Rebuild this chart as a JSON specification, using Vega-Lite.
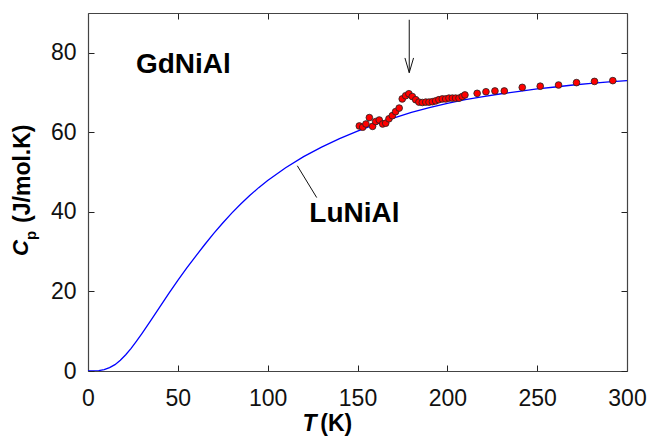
{
  "$schema": "https://vega.github.io/schema/vega-lite/v6.json",
  "width": 539,
  "height": 358,
  "autosize": "none",
  "padding": {"left": 88, "top": 13, "right": 23, "bottom": 66},
  "background": "white",
  "config": {
    "view": {"stroke": null},
    "font": "Liberation Sans",
    "axis": {
      "grid": false,
      "domainColor": "#444444",
      "domainWidth": 1.2,
      "tickColor": "#222222",
      "tickWidth": 1,
      "tickSize": -6,
      "labelFont": "Liberation Sans",
      "labelFontSize": 23,
      "labelColor": "#111111",
      "title": null
    },
    "text": {"font": "Liberation Sans", "fontWeight": "bold", "baseline": "middle", "color": "#000000"}
  },
  "datasets": {
    "luniAl": [
      {"T": 0, "C": 0}, {"T": 3, "C": 0.02}, {"T": 6, "C": 0.1}, {"T": 9, "C": 0.35},
      {"T": 12, "C": 0.85}, {"T": 15, "C": 1.6}, {"T": 18, "C": 2.7}, {"T": 21, "C": 4.1},
      {"T": 24, "C": 5.7}, {"T": 27, "C": 7.5}, {"T": 30, "C": 9.4}, {"T": 35, "C": 12.7},
      {"T": 40, "C": 16.1}, {"T": 45, "C": 19.5}, {"T": 50, "C": 22.8}, {"T": 55, "C": 25.9},
      {"T": 60, "C": 28.9}, {"T": 65, "C": 31.8}, {"T": 70, "C": 34.6}, {"T": 75, "C": 37.2},
      {"T": 80, "C": 39.7}, {"T": 85, "C": 42.0}, {"T": 90, "C": 44.1}, {"T": 95, "C": 46.1},
      {"T": 100, "C": 47.9}, {"T": 110, "C": 51.1}, {"T": 120, "C": 53.9}, {"T": 130, "C": 56.3},
      {"T": 140, "C": 58.4}, {"T": 150, "C": 60.3}, {"T": 160, "C": 62.0}, {"T": 170, "C": 63.6},
      {"T": 180, "C": 65.0}, {"T": 190, "C": 66.2}, {"T": 200, "C": 67.3}, {"T": 210, "C": 68.2},
      {"T": 220, "C": 69.0}, {"T": 230, "C": 69.7}, {"T": 240, "C": 70.3}, {"T": 250, "C": 70.9},
      {"T": 260, "C": 71.4}, {"T": 270, "C": 71.9}, {"T": 280, "C": 72.3}, {"T": 290, "C": 72.7},
      {"T": 300, "C": 73.0}
    ],
    "gdniAl": [
      {"T": 151.0, "C": 61.6}, {"T": 152.9, "C": 61.3}, {"T": 154.7, "C": 62.1}, {"T": 156.6, "C": 63.7},
      {"T": 158.4, "C": 61.5}, {"T": 160.1, "C": 62.7}, {"T": 162.1, "C": 63.1}, {"T": 164.0, "C": 62.1},
      {"T": 165.7, "C": 62.3}, {"T": 167.5, "C": 63.4}, {"T": 169.4, "C": 64.2}, {"T": 171.2, "C": 65.2},
      {"T": 173.2, "C": 66.1}, {"T": 174.9, "C": 68.4}, {"T": 176.8, "C": 69.2}, {"T": 178.6, "C": 69.7},
      {"T": 180.5, "C": 69.0}, {"T": 182.4, "C": 68.2}, {"T": 184.2, "C": 67.6}, {"T": 186.1, "C": 67.5},
      {"T": 188.0, "C": 67.6}, {"T": 189.8, "C": 67.6}, {"T": 191.7, "C": 67.7}, {"T": 193.5, "C": 67.9},
      {"T": 195.3, "C": 68.2}, {"T": 197.2, "C": 68.4}, {"T": 199.1, "C": 68.4}, {"T": 200.9, "C": 68.6},
      {"T": 202.8, "C": 68.6}, {"T": 204.6, "C": 68.6}, {"T": 206.5, "C": 68.6}, {"T": 208.3, "C": 69.0},
      {"T": 209.8, "C": 69.4}, {"T": 216.6, "C": 69.8}, {"T": 221.5, "C": 70.2}, {"T": 226.5, "C": 70.4},
      {"T": 231.7, "C": 70.4}, {"T": 241.7, "C": 71.3}, {"T": 251.7, "C": 71.6}, {"T": 261.9, "C": 71.9},
      {"T": 271.9, "C": 72.5}, {"T": 281.9, "C": 72.8}, {"T": 292.1, "C": 73.0}
    ],
    "strokes": [
      {"seg": "shaft", "k": 0, "T": 178.8, "C": 88.3},
      {"seg": "shaft", "k": 1, "T": 178.8, "C": 75.0},
      {"seg": "head", "k": 0, "T": 176.4, "C": 78.7},
      {"seg": "head", "k": 1, "T": 178.8, "C": 75.0},
      {"seg": "head", "k": 2, "T": 181.2, "C": 78.7},
      {"seg": "leader", "k": 0, "T": 116.5, "C": 51.6},
      {"seg": "leader", "k": 1, "T": 127.3, "C": 43.6}
    ]
  },
  "resolve": {"axis": {"x": "independent", "y": "independent"}},
  "layer": [
    {
      "data": {"name": "luniAl"},
      "mark": {"type": "line", "color": "#0000ff", "strokeWidth": 1.3, "clip": true},
      "encoding": {
        "x": {"field": "T", "type": "quantitative", "scale": {"domain": [0, 300], "nice": false},
              "axis": {"orient": "bottom", "values": [0, 50, 100, 150, 200, 250, 300], "labelPadding": 22, "labelFlush": false}},
        "y": {"field": "C", "type": "quantitative", "scale": {"domain": [0, 90], "nice": false},
              "axis": {"orient": "left", "values": [0, 20, 40, 60, 80], "labelPadding": 18}}
      }
    },
    {
      "data": {"name": "gdniAl"},
      "mark": {"type": "point", "shape": "circle", "filled": true, "color": "#ff0000", "stroke": "#222222", "strokeWidth": 0.8, "size": 45, "opacity": 1},
      "encoding": {
        "x": {"field": "T", "type": "quantitative",
              "axis": {"orient": "top", "values": [0, 50, 100, 150, 200, 250, 300], "labels": false}},
        "y": {"field": "C", "type": "quantitative",
              "axis": {"orient": "right", "values": [0, 20, 40, 60, 80], "labels": false}}
      }
    },
    {
      "data": {"name": "strokes"},
      "mark": {"type": "line", "color": "#111111", "strokeWidth": 1},
      "encoding": {
        "x": {"field": "T", "type": "quantitative", "axis": null},
        "y": {"field": "C", "type": "quantitative", "axis": null},
        "detail": {"field": "seg"},
        "order": {"field": "k"}
      }
    },
    {
      "data": {"values": [
        {"text": "GdNiAl", "T": 26.7, "C": 77.0},
        {"text": "LuNiAl", "T": 123.2, "C": 39.4}
      ]},
      "mark": {"type": "text", "align": "left", "fontSize": 28},
      "encoding": {
        "x": {"field": "T", "type": "quantitative", "axis": null},
        "y": {"field": "C", "type": "quantitative", "axis": null},
        "text": {"field": "text"}
      }
    },
    {
      "data": {"values": [{"text": "T", "T": 127.2, "C": -13.3}]},
      "mark": {"type": "text", "align": "right", "fontSize": 23, "fontStyle": "italic"},
      "encoding": {
        "x": {"field": "T", "type": "quantitative", "axis": null},
        "y": {"field": "C", "type": "quantitative", "axis": null},
        "text": {"field": "text"}
      }
    },
    {
      "data": {"values": [{"text": "(K)", "T": 129.3, "C": -13.3}]},
      "mark": {"type": "text", "align": "left", "fontSize": 23},
      "encoding": {
        "x": {"field": "T", "type": "quantitative", "axis": null},
        "y": {"field": "C", "type": "quantitative", "axis": null},
        "text": {"field": "text"}
      }
    },
    {
      "data": {"values": [{"text": "C", "T": -37.4, "C": 30.9}]},
      "mark": {"type": "text", "align": "center", "fontSize": 22, "fontStyle": "italic", "angle": 270},
      "encoding": {
        "x": {"field": "T", "type": "quantitative", "axis": null},
        "y": {"field": "C", "type": "quantitative", "axis": null},
        "text": {"field": "text"}
      }
    },
    {
      "data": {"values": [{"text": "p", "T": -31.8, "C": 34.1}]},
      "mark": {"type": "text", "align": "center", "fontSize": 15, "angle": 270},
      "encoding": {
        "x": {"field": "T", "type": "quantitative", "axis": null},
        "y": {"field": "C", "type": "quantitative", "axis": null},
        "text": {"field": "text"}
      }
    },
    {
      "data": {"values": [{"text": "(J/mol.K)", "T": -36.2, "C": 49.6}]},
      "mark": {"type": "text", "align": "center", "fontSize": 23, "angle": 270},
      "encoding": {
        "x": {"field": "T", "type": "quantitative", "axis": null},
        "y": {"field": "C", "type": "quantitative", "axis": null},
        "text": {"field": "text"}
      }
    }
  ]
}
